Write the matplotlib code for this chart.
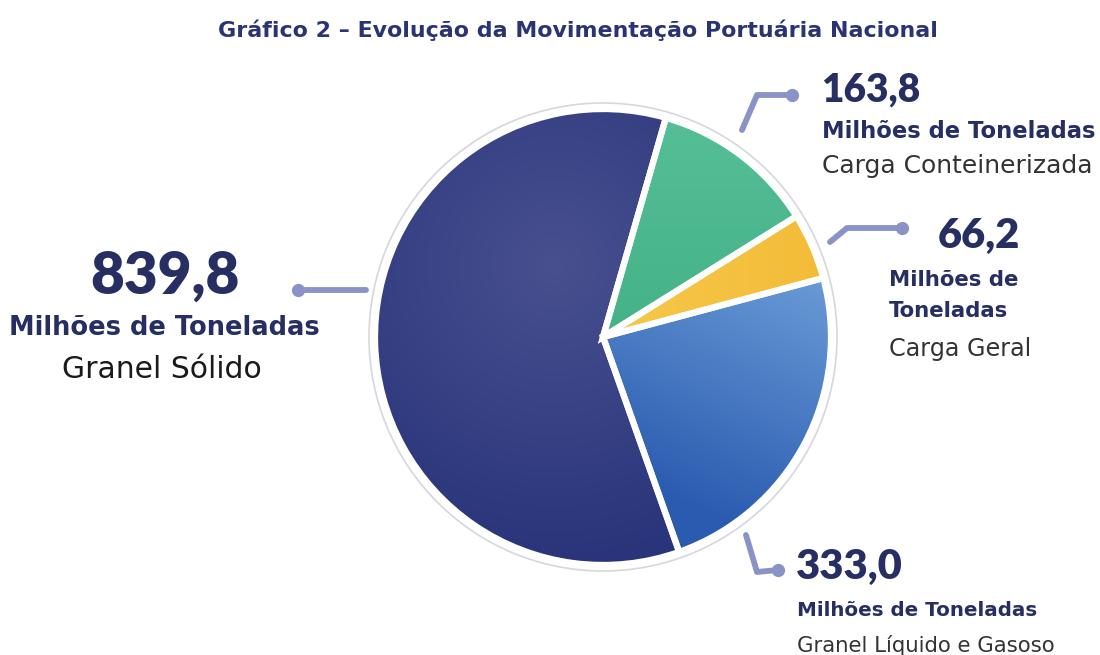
import numpy as np
import matplotlib.pyplot as plt
from matplotlib.colors import to_rgb

# data
categorias = ['Carga Conteinerizada', 'Carga Geral', 'Granel Líquido e Gasoso', 'Granel Sólido']
valores = [163.8, 66.2, 333.0, 839.8]
rotulos = ['163,8', '66,2', '333,0', '839,8']
unidade = 'Milhões de Toneladas'
titulo = 'Gráfico 2 – Evolução da Movimentação Portuária Nacional'

W, H = 1100, 655
fig = plt.figure(figsize=(W / 100, H / 100), dpi=100)
ax = fig.add_axes([0, 0, 1, 1])
ax.axis('off')

FONT = 'DejaVu Sans'
NUMFONT = 'Lato'
NAVY = '#272e62'
LINE = '#8a93c6'

cx, cy, R = 603, 337, 228

# pale ring around the pie
ring = plt.Circle((cx, cy), R + 6, facecolor='white', edgecolor='#d6d7de', lw=1.2, zorder=1)
ax.add_patch(ring)

wedges, _ = ax.pie(valores, startangle=-74, counterclock=True, center=(cx, cy), radius=R,
                   colors=['#4db98f', '#f4c13e', '#4d7fc6', '#323c7c'],
                   wedgeprops=dict(edgecolor='white', linewidth=4.5))
for w in wedges:
    w.set_zorder(3)

# gradient fills clipped to each wedge
x0, x1, y0, y1 = cx - R - 4, cx + R + 4, cy - R - 4, cy + R + 4
gx, gy = np.meshgrid(np.linspace(x0, x1, 300), np.linspace(y0, y1, 300))


def blend(c1, c2, t):
    a, b = np.array(to_rgb(c1)), np.array(to_rgb(c2))
    t = np.clip(t, 0, 1)[..., None]
    return a * (1 - t) + b * t


d = np.hypot(gx - 555, gy - 265) / 300
fills = [
    blend('#56bf97', '#45b288', (gy - 110) / 220),
    blend('#f6c648', '#f3bb36', (gx - 640) / 200),
    blend('#6a9bd6', '#2a5bb0', ((830 - gx) * 0.45 + (gy - 280)) / 290),
    blend('#48508f', '#29347a', d),
]
for w, img in zip(wedges, fills):
    im = ax.imshow(img, extent=(x0, x1, y1, y0), origin='upper', zorder=2, interpolation='bilinear')
    im.set_clip_path(w)
    w.set_facecolor('none')

# leader lines
leaders = [
    [(742, 130), (757, 95), (792, 95)],
    [(830, 242), (847, 228), (902, 228)],
    [(746, 535), (757, 572), (778, 570)],
    [(366, 290), (298, 290)],
]
for pts in leaders:
    xs, ys = zip(*pts)
    ax.plot(xs, ys, color=LINE, lw=4.2, solid_capstyle='round', solid_joinstyle='round', zorder=4)
    ax.plot(xs[-1], ys[-1], 'o', color=LINE, ms=8.5, zorder=4)

ax.set_xlim(0, W)
ax.set_ylim(H, 0)

ax.text(578, 30, titulo, ha='center', va='center', fontsize=15.9, fontweight='bold', color='#2b3472',
        family=FONT)

# Granel Sólido
ax.text(165, 276, rotulos[3], ha='center', va='center', fontsize=42, fontweight='heavy', color=NAVY, family=NUMFONT)
ax.text(164, 328, unidade, ha='center', va='center', fontsize=18.5, fontweight='bold', color=NAVY, family=FONT)
ax.text(162, 370, categorias[3], ha='center', va='center', fontsize=21.5, color='#1a1a1a', family=FONT)

# Carga Conteinerizada
ax.text(821, 90, rotulos[0], ha='left', va='center', fontsize=28, fontweight='heavy', color=NAVY, family=NUMFONT)
ax.text(822, 132, unidade, ha='left', va='center', fontsize=16.3, fontweight='bold', color=NAVY, family=FONT)
ax.text(822, 166, categorias[0], ha='left', va='center', fontsize=18, color='#333333', family=FONT)

# Carga Geral
ax.text(979, 236, rotulos[1], ha='center', va='center', fontsize=30, fontweight='heavy', color=NAVY, family=NUMFONT)
ax.text(889, 280, 'Milhões de', ha='left', va='center', fontsize=15.3, fontweight='bold', color=NAVY, family=FONT)
ax.text(889, 311, 'Toneladas', ha='left', va='center', fontsize=15.3, fontweight='bold', color=NAVY, family=FONT)
ax.text(889, 349, categorias[1], ha='left', va='center', fontsize=17.2, color='#333333', family=FONT)

# Granel Líquido e Gasoso
ax.text(796, 567, rotulos[2], ha='left', va='center', fontsize=30, fontweight='heavy', color=NAVY, family=NUMFONT)
ax.text(797, 611, unidade, ha='left', va='center', fontsize=14.3, fontweight='bold', color=NAVY, family=FONT)
ax.text(797, 645, categorias[2], ha='left', va='center', fontsize=15.3, color='#333333', family=FONT)

fig.savefig('out.png', dpi=100, facecolor='white')
